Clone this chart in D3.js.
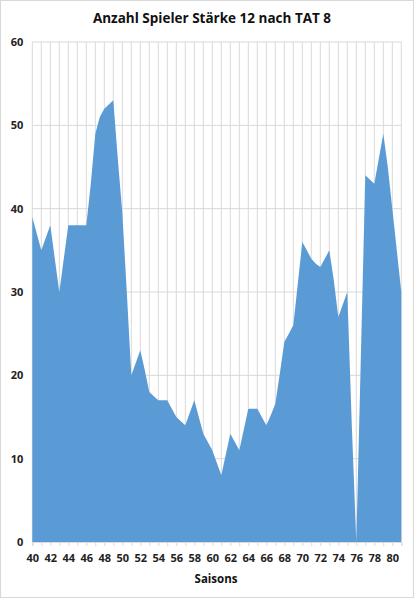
<!DOCTYPE html>
<html><head><meta charset="utf-8">
<script src="https://cdn.jsdelivr.net/npm/d3@7"></script>
<style>body{margin:0;background:#fff}svg{display:block}text{font-family:"Open Sans","Liberation Sans",sans-serif}</style>
</head><body>
<svg id="c" width="420" height="600"></svg>
<script>
const title = "Anzahl Spieler Stärke 12 nach TAT 8";
const xTitle = "Saisons";
const seasons = [40,40.5,41,41.5,42,42.5,43,43.5,44,44.5,45,45.5,46,46.5,47,47.5,48,48.5,49,49.5,50,50.5,51,51.5,52,52.5,53,53.5,54,54.5,55,55.5,56,56.5,57,57.5,58,58.5,59,59.5,60,60.5,61,61.5,62,62.5,63,63.5,64,64.5,65,65.5,66,66.5,67,67.5,68,68.5,69,69.5,70,70.5,71,71.5,72,72.5,73,73.5,74,74.5,75,75.5,76,76.5,77,77.5,78,78.5,79,79.5,80,80.5,81];
const players = [39,37,35,36.5,38,34,30,34,38,38,38,38,38,43,49,51,52,52.5,53,46,39.5,30,20,21.5,23,20.6,18,17.5,17,17,17,16,15,14.5,14,15.5,17,15,13,12,11,9.5,8,10.5,13,12,11,13.5,16,16,16,15,14,15.2,16.6,20.2,24,25,26,31,36,35,34,33.4,33,34,35,31.4,27,28.5,30,14,0,22,44,43.5,43,46,49,45,40,35,30];
const xTickLabels = [40,42,44,46,48,50,52,54,56,58,60,62,64,66,68,70,72,74,76,78,80];
const yTickLabels = [0,10,20,30,40,50,60];

const svg = d3.select("#c");
svg.append("rect").attr("x",0.5).attr("y",0.5).attr("width",413).attr("height",597).attr("fill","#fff").attr("stroke","#d9d9d9");
const L=32.3,R=401.3,T=42,B=542;
const x = d3.scaleLinear().domain([40,81]).range([L,R]);
const y = d3.scaleLinear().domain([0,60]).range([B,T]);

// gridlines
const g = svg.append("g");
g.selectAll(".vg").data(d3.range(40,82)).join("line")
 .attr("x1",d=>x(d)).attr("x2",d=>x(d)).attr("y1",T).attr("y2",B)
 .attr("stroke","#d9d9d9").attr("stroke-width",1);
g.selectAll(".hg").data(yTickLabels).join("line")
 .attr("x1",L).attr("x2",R).attr("y1",d=>y(d)).attr("y2",d=>y(d))
 .attr("stroke","#d9d9d9").attr("stroke-width",1);

// area
const area = d3.area().x((d,i)=>x(seasons[i])).y0(B).y1(d=>y(d));
svg.append("path").datum(players).attr("d",area).attr("fill","#5b9bd5");

// x axis
const xa = svg.append("g").attr("transform",`translate(0,${B})`)
 .call(d3.axisBottom(x).tickValues(d3.range(40,82)).tickSize(4).tickFormat(d=>xTickLabels.includes(d)?d:""));
xa.select(".domain").attr("stroke","#d9d9d9");
xa.selectAll(".tick line").attr("stroke","#d9d9d9");
xa.selectAll("text").attr("font-size",11).attr("font-weight","bold").attr("fill","#222").attr("dy","1.15em");

// y axis labels
const ya = svg.append("g").attr("transform",`translate(${L},0)`)
 .call(d3.axisLeft(y).tickValues(yTickLabels).tickSize(0).tickPadding(9));
ya.select(".domain").remove();
ya.selectAll("text").attr("font-size",11).attr("font-weight","bold").attr("fill","#222");

svg.append("text").attr("x",212).attr("y",23).attr("text-anchor","middle")
 .attr("font-size",13.5).attr("font-weight","bold").attr("fill","#111").text(title);
svg.append("text").attr("x",216).attr("y",583).attr("text-anchor","middle")
 .attr("font-size",11.5).attr("font-weight","bold").attr("fill","#111").text(xTitle);
</script>
</body></html>
